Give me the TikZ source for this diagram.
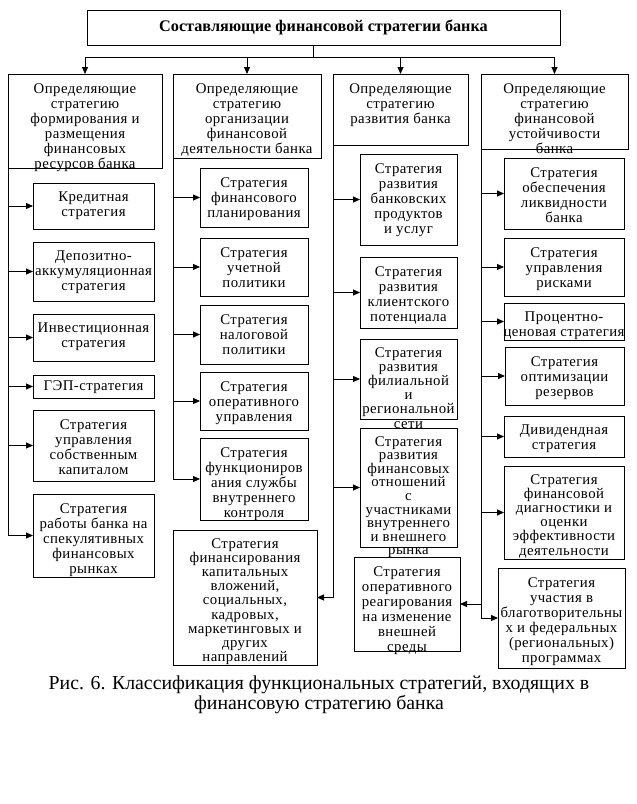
\documentclass[tikz,border=0pt]{standalone}
\usepackage{fontspec}
\setmainfont{Liberation Serif}
\newfontfamily\boxfont[LetterSpace=3]{Liberation Serif}
\usetikzlibrary{arrows.meta}

\tikzset{
  box/.style={draw, line width=1pt, anchor=north west, inner sep=0pt, outer sep=0pt},
  txt/.style={anchor=north, align=center, inner sep=0pt, yshift=-9pt,
    font=\boxfont\fontsize{14.8}{15}\selectfont},
  tight/.style={txt, yshift=1pt, font=\boxfont\fontsize{14.8}{14.2}\selectfont},
  arr/.style={-{Triangle[length=7pt,width=6pt]}, line width=1pt},
}

\begin{document}
\begin{tikzpicture}[x=1pt, y=-1pt]
  \useasboundingbox (0,0) rectangle (637,804);

  % заголовок
  \node[box, minimum width=473, minimum height=35, font=\bfseries\fontsize{16.2}{17}\selectfont] (title) at (87,10)
    {Составляющие финансовой стратегии банка};

  % группы
  \node[box, minimum width=154, minimum height=94,
    label={[txt]north:{Определяющие\\стратегию\\формирования и\\размещения\\финансовых\\ресурсов банка}}] (ka) at (8,74) {};
  \node[box, minimum width=148, minimum height=84,
    label={[txt]north:{Определяющие\\стратегию\\организации\\финансовой\\деятельности банка}}] (kb) at (173,74) {};
  \node[box, minimum width=135, minimum height=71,
    label={[txt]north:{Определяющие\\стратегию\\развития банка}}] (kc) at (333,74) {};
  \node[box, minimum width=147, minimum height=75,
    label={[txt]north:{Определяющие\\стратегию\\финансовой\\устойчивости\\банка}}] (kd) at (481,74) {};

  % первая колонка
  \node[box, minimum width=121, minimum height=46,
    label={[txt]north:{Кредитная\\стратегия}}] (a1) at (33,183) {};
  \node[box, minimum width=121, minimum height=59,
    label={[txt]north:{Депозитно-\\аккумуляционная\\стратегия}}] (a2) at (33,242) {};
  \node[box, minimum width=121, minimum height=47,
    label={[txt]north:{Инвестиционная\\стратегия}}] (a3) at (33,314) {};
  \node[box, minimum width=121, minimum height=23,
    label={[txt, yshift=4pt]north:{ГЭП-стратегия}}] (a4) at (33,375) {};
  \node[box, minimum width=121, minimum height=71,
    label={[txt]north:{Стратегия\\управления\\собственным\\капиталом}}] (a5) at (33,410) {};
  \node[box, minimum width=121, minimum height=83,
    label={[txt]north:{Стратегия\\работы банка на\\спекулятивных\\финансовых\\рынках}}] (a6) at (33,494) {};

  % вторая колонка
  \node[box, minimum width=108, minimum height=59,
    label={[txt]north:{Стратегия\\финансового\\планирования}}] (b1) at (200,168) {};
  \node[box, minimum width=108, minimum height=58,
    label={[txt]north:{Стратегия\\учетной\\политики}}] (b2) at (200,238) {};
  \node[box, minimum width=108, minimum height=59,
    label={[txt]north:{Стратегия\\налоговой\\политики}}] (b3) at (200,305) {};
  \node[box, minimum width=108, minimum height=58,
    label={[txt]north:{Стратегия\\оперативного\\управления}}] (b4) at (200,372) {};
  \node[box, minimum width=108, minimum height=82,
    label={[txt]north:{Стратегия\\функциониров\\ания службы\\внутреннего\\контроля}}] (b5) at (200,438) {};
  \node[box, minimum width=144, minimum height=135,
    label={[tight]north:{Стратегия\\финансирования\\капитальных\\вложений,\\социальных,\\кадровых,\\маркетинговых и\\других\\направлений}}] (b6) at (173,530) {};

  % третья колонка
  \node[box, minimum width=97, minimum height=91,
    label={[txt]north:{Стратегия\\развития\\банковских\\продуктов\\и услуг}}] (c1) at (360,154) {};
  \node[box, minimum width=97, minimum height=71,
    label={[txt]north:{Стратегия\\развития\\клиентского\\потенциала}}] (c2) at (360,257) {};
  \node[box, minimum width=97, minimum height=80,
    label={[tight]north:{Стратегия\\развития\\филиальной\\и\\региональной\\сети}}] (c3) at (360,339) {};
  \node[box, minimum width=97, minimum height=119,
    label={[tight, font=\boxfont\fontsize{14.8}{13.6}\selectfont]north:{Стратегия\\развития\\финансовых\\отношений\\с\\участниками\\внутреннего\\и внешнего\\рынка}}] (c4) at (360,428) {};
  \node[box, minimum width=106, minimum height=94,
    label={[txt]north:{Стратегия\\оперативного\\реагирования\\на изменение\\внешней\\среды}}] (c5) at (354,557) {};

  % четвертая колонка
  \node[box, minimum width=120, minimum height=71,
    label={[txt]north:{Стратегия\\обеспечения\\ликвидности\\банка}}] (d1) at (504,158) {};
  \node[box, minimum width=120, minimum height=58,
    label={[txt]north:{Стратегия\\управления\\рисками}}] (d2) at (504,238) {};
  \node[box, minimum width=120, minimum height=37,
    label={[txt]north:{Процентно-\\ценовая стратегия}}] (d3) at (504,303) {};
  \node[box, minimum width=119, minimum height=58,
    label={[txt]north:{Стратегия\\оптимизации\\резервов}}] (d4) at (505,347) {};
  \node[box, minimum width=120, minimum height=41,
    label={[txt]north:{Дивидендная\\стратегия}}] (d5) at (504,416) {};
  \node[box, minimum width=120, minimum height=93,
    label={[tight]north:{Стратегия\\финансовой\\диагностики и\\оценки\\эффективности\\деятельности}}] (d6) at (504,466) {};
  \node[box, minimum width=127, minimum height=100,
    label={[txt]north:{Стратегия\\участия в\\благотворительны\\х и федеральных\\(региональных)\\программах}}] (d7) at (498,568) {};

  % связи сверху
  \coordinate (hub) at (313,57);
  \draw[line width=1pt] (title.south -| hub) -- (hub);
  \foreach \k in {ka,kb,kc,kd}
    \draw[arr] (hub) -| (\k.north);

  % связи по колонкам
  \foreach \s in {a1,a2,a3,a4,a5,a6}
    \draw[arr] (ka.south west) |- (\s.west);
  \foreach \s in {b1,b2,b3,b4,b5}
    \draw[arr] (kb.south west) |- (\s.west);
  \foreach \s in {c1,c2,c3,c4}
    \draw[arr] (kc.south west) |- (\s.west);
  \draw[arr] (kc.south west) |- (b6.east);
  \foreach \s in {d1,d2,d3,d4,d5,d6,d7}
    \draw[arr] (kd.south west) |- (\s.west);
  \draw[arr] (kd.south west) |- (c5.east);

  % подпись
  \node[align=center, font=\fontsize{19.8}{20.5}\selectfont] (cap) at (319,695)
    {Рис. 6. Классификация функциональных стратегий, входящих в\\финансовую стратегию банка};
\end{tikzpicture}
\end{document}
